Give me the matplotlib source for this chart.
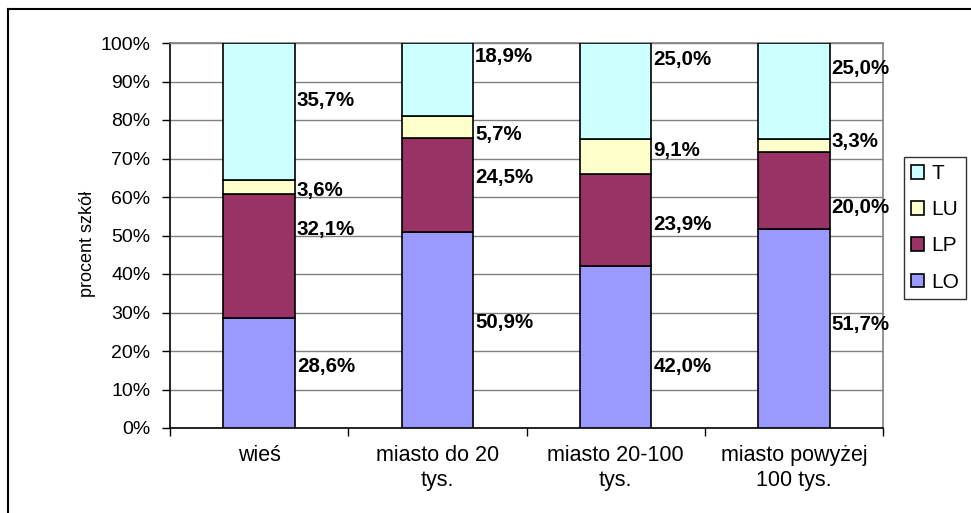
import matplotlib
matplotlib.use("Agg")
import matplotlib.pyplot as plt
import numpy as np
from matplotlib.lines import Line2D
from matplotlib.patches import Patch

plt.rcParams['font.family'] = ['Liberation Sans', 'DejaVu Sans']

# dane
kategorie = ["wieś", "miasto do 20\ntys.", "miasto 20-100\ntys.", "miasto powyżej\n100 tys."]
serie = ["LO", "LP", "LU", "T"]
LO = [28.6, 50.9, 42.0, 51.7]
LP = [32.1, 24.5, 23.9, 20.0]
LU = [3.6, 5.7, 9.1, 3.3]
T = [35.7, 18.9, 25.0, 25.0]
# przesunięcia etykiet (w punktach procentowych) względem środka segmentu
nudge_LO = [1.8, 1.9, -4.9, 1.0]
nudge_LP = [7.0, 2.0, -1.0, -4.3]
nudge_LU = [-0.7, -1.9, 1.7, 1.0]
nudge_T = [2.9, 5.9, 8.3, 6.0]

kolory = {"LO": "#9999FF", "LP": "#993366", "LU": "#FFFFCC", "T": "#CCFFFF"}

wartosci = {"LO": LO, "LP": LP, "LU": LU, "T": T}
nudges = {"LO": nudge_LO, "LP": nudge_LP, "LU": nudge_LU, "T": nudge_T}

fig = plt.figure(figsize=(9.71, 5.13), dpi=100)
ax = fig.add_axes([170/971, 1-428/513, (883-170)/971, (428-43)/513])

x = np.arange(len(kategorie))
szer = 0.4
dol = np.zeros(len(kategorie))
for s in serie:
    v = np.array(wartosci[s])
    ax.bar(x, v, szer, bottom=dol, color=kolory[s], edgecolor="black",
           linewidth=1.2, zorder=3)
    for i in range(len(x)):
        ymid = dol[i] + v[i] / 2 + nudges[s][i]
        lab = f"{v[i]:.1f}%".replace(".", ",")
        ax.text(x[i] + szer / 2 + 0.012, ymid, lab, ha="left", va="center",
                fontsize=14.8, fontweight="bold", zorder=4)
    dol += v

ax.set_xlim(-0.5, len(kategorie) - 0.5)
ax.set_ylim(0, 100)
ax.set_yticks(np.arange(0, 101, 10))
ax.set_yticklabels([f"{t}%" for t in range(0, 101, 10)], fontsize=14)
ax.yaxis.grid(True, color="#808080", linewidth=1.0, zorder=0)
ax.set_axisbelow(True)

ax.set_xticks(x)
ax.set_xticklabels(kategorie, fontsize=15.5, linespacing=1.3)
ax.set_xticks(np.arange(-0.5, len(kategorie)), minor=True)
ax.tick_params(axis="x", which="major", length=0, pad=12)
ax.tick_params(axis="x", which="minor", length=6, width=1, direction="out")
ax.tick_params(axis="y", length=6, width=1, direction="out", pad=8)

for side in ["top", "right"]:
    ax.spines[side].set_color("#808080")
    ax.spines[side].set_linewidth(1.2)
for side in ["left", "bottom"]:
    ax.spines[side].set_color("black")
    ax.spines[side].set_linewidth(1.2)

ax.set_ylabel("procent szkół", fontsize=13)
ax.yaxis.set_label_coords((96 - 170) / 713, 0.478)

# legenda w odwrotnej kolejności
uchwyty = [Patch(facecolor=kolory[s], edgecolor="black", linewidth=1.2) for s in serie[::-1]]
leg = fig.legend(uchwyty, serie[::-1], loc="upper left",
                 bbox_to_anchor=(904/971, 1-157/513), fontsize=15,
                 frameon=True, fancybox=False, handlelength=0.6, handleheight=0.6,
                 handletextpad=0.35, labelspacing=0.82, borderpad=0.35,
                 borderaxespad=0)
leg.get_frame().set_edgecolor("black")
leg.get_frame().set_linewidth(1.0)

# ramka wykresu
fig.add_artist(Line2D([7.5/971, 1.0], [1-9/513, 1-9/513], color="black",
                      linewidth=1.5, transform=fig.transFigure))
fig.add_artist(Line2D([7.5/971, 7.5/971], [0.0, 1-9/513], color="black",
                      linewidth=1.5, transform=fig.transFigure))

fig.savefig("out.png", dpi=100)
